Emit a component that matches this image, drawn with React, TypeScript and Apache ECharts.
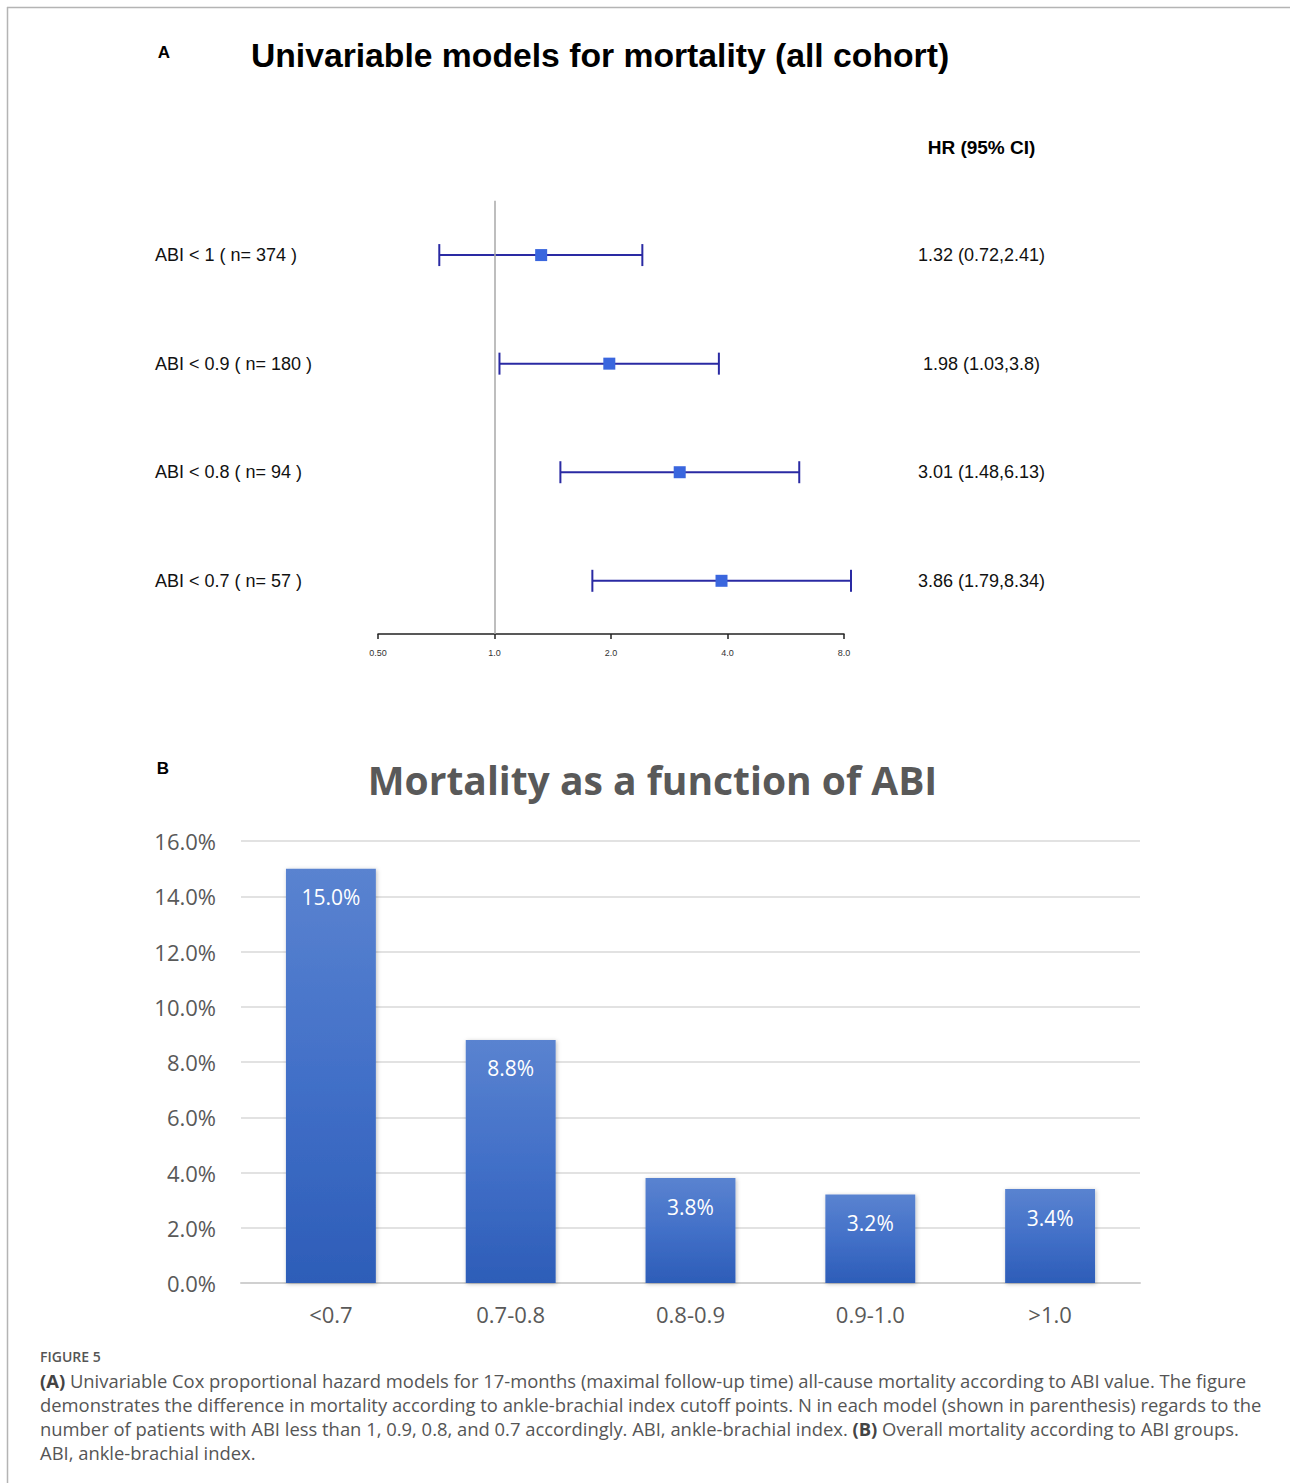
import React, { useEffect, useRef } from "react";
import * as echarts from "echarts";

// ---------- Data: panel A (forest plot) ----------
const forestLabels = [
  "ABI < 1 ( n= 374 )",
  "ABI < 0.9 ( n= 180 )",
  "ABI < 0.8 ( n= 94 )",
  "ABI < 0.7 ( n= 57 )",
];
const hrValues = [1.32, 1.98, 3.01, 3.86];
const ciLower = [0.72, 1.03, 1.48, 1.79];
const ciUpper = [2.41, 3.8, 6.13, 8.34];
const forestAxisMin = 0.5;
const forestAxisMax = 8;

// ---------- Data: panel B (bar chart) ----------
const abiGroups = ["<0.7", "0.7-0.8", "0.8-0.9", "0.9-1.0", ">1.0"];
const mortalityPct = [15.0, 8.8, 3.8, 3.2, 3.4];

// ---------- Texts ----------
const titleA = "Univariable models for mortality (all cohort)";
const titleB = "Mortality as a function of ABI";
const hrHeader = "HR (95% CI)";
const captionHead = "FIGURE 5";
const captionLines = [
  "{b|(A)} Univariable Cox proportional hazard models for 17-months (maximal follow-up time) all-cause mortality according to ABI value. The figure",
  "demonstrates the difference in mortality according to ankle-brachial index cutoff points. N in each model (shown in parenthesis) regards to the",
  "number of patients with ABI less than 1, 0.9, 0.8, and 0.7 accordingly. ABI, ankle-brachial index. {b|(B)} Overall mortality according to ABI groups.",
  "ABI, ankle-brachial index.",
];

const ARIAL = "'Liberation Sans', Arial, sans-serif";
const SANS = "'Open Sans', 'Noto Sans', sans-serif";
const CAP_SIZE = 18.4;

export default function App() {
  const ref = useRef<HTMLDivElement>(null);

  useEffect(() => {
    document.body.style.margin = "0";
    const chart = echarts.init(ref.current!, null, { renderer: "svg" });

    const errorData = hrValues.map((_, i) => [ciLower[i], ciUpper[i], i + 1]);
    const pointData = hrValues.map((v, i) => [v, i + 1]);

    const captionCenters = [1380, 1404, 1428, 1452];

    const option: any = {
      animation: false,
      backgroundColor: "#ffffff",
      grid: [
        { left: 378, width: 466, top: 146.5, height: 487.5 },
        { left: 241, width: 899, top: 841, height: 442 },
      ],
      xAxis: [
        {
          gridIndex: 0,
          type: "log",
          logBase: 2,
          min: forestAxisMin,
          max: forestAxisMax,
          position: "bottom",
          axisLine: { show: true, onZero: false, lineStyle: { color: "#222", width: 1.5 } },
          axisTick: { show: true, length: 5, lineStyle: { color: "#222", width: 1.5 } },
          axisLabel: {
            fontSize: 9,
            fontFamily: ARIAL,
            color: "#333",
            margin: 14,
            formatter: (v: number) => (v < 1 ? v.toFixed(2) : v.toFixed(1)),
          },
          splitLine: { show: false },
          minorTick: { show: false },
        },
        {
          gridIndex: 1,
          type: "category",
          data: abiGroups,
          axisLine: { show: true, lineStyle: { color: "#d0d0d0", width: 2 } },
          axisTick: { show: false },
          axisLabel: { fontSize: 22, fontFamily: SANS, color: "#595959", margin: 20 },
        },
      ],
      yAxis: [
        { gridIndex: 0, type: "value", min: 0, max: 4.49, inverse: true, show: false },
        {
          gridIndex: 1,
          type: "value",
          min: 0,
          max: 16,
          interval: 2,
          axisLine: { show: false },
          axisTick: { show: false },
          axisLabel: {
            fontSize: 22,
            fontFamily: SANS,
            color: "#595959",
            margin: 25,
            formatter: (v: number) => v.toFixed(1) + "%",
          },
          splitLine: { show: true, lineStyle: { color: "#d9d9d9", width: 1.5 } },
        },
      ],
      series: [
        {
          type: "custom",
          xAxisIndex: 0,
          yAxisIndex: 0,
          data: errorData,
          encode: { x: [0, 1], y: 2 },
          clip: false,
          z: 2,
          renderItem: (params: any, api: any) => {
            const idx = params.dataIndex;
            const row = api.value(2);
            const p1 = api.coord([api.value(0), row]);
            const p2 = api.coord([api.value(1), row]);
            const y = p1[1];
            const stroke = "#2a2aa3";
            const cap = 11;
            return {
              type: "group",
              children: [
                { type: "line", shape: { x1: p1[0], y1: y, x2: p2[0], y2: y }, style: { stroke, lineWidth: 2 } },
                { type: "line", shape: { x1: p1[0], y1: y - cap, x2: p1[0], y2: y + cap }, style: { stroke, lineWidth: 2 } },
                { type: "line", shape: { x1: p2[0], y1: y - cap, x2: p2[0], y2: y + cap }, style: { stroke, lineWidth: 2 } },
                {
                  type: "text",
                  x: 155,
                  y,
                  style: {
                    text: forestLabels[idx],
                    fontSize: 18,
                    fontFamily: ARIAL,
                    fill: "#111",
                    align: "left",
                    verticalAlign: "middle",
                  },
                },
                {
                  type: "text",
                  x: 981.5,
                  y,
                  style: {
                    text: `${hrValues[idx]} (${ciLower[idx]},${ciUpper[idx]})`,
                    fontSize: 18,
                    fontFamily: ARIAL,
                    fill: "#111",
                    align: "center",
                    verticalAlign: "middle",
                  },
                },
              ],
            };
          },
        },
        {
          type: "scatter",
          xAxisIndex: 0,
          yAxisIndex: 0,
          data: pointData,
          symbol: "rect",
          symbolSize: 12,
          z: 3,
          itemStyle: { color: "#3a66de", opacity: 1 },
          markLine: {
            silent: true,
            symbol: ["none", "none"],
            label: { show: false },
            lineStyle: { color: "#a8a8a8", width: 1.5, type: "solid" },
            data: [[{ coord: [1, 0.5] }, { coord: [1, 4.49] }]],
          },
        },
        {
          type: "bar",
          xAxisIndex: 1,
          yAxisIndex: 1,
          data: mortalityPct,
          barWidth: "50%",
          itemStyle: {
            color: new echarts.graphic.LinearGradient(0, 0, 0, 1, [
              { offset: 0, color: "#5a83d0" },
              { offset: 0.5, color: "#4270c8" },
              { offset: 1, color: "#2d5db8" },
            ]),
            shadowColor: "rgba(0,0,0,0.25)",
            shadowBlur: 4,
            shadowOffsetX: 1,
            shadowOffsetY: 1,
          },
          label: {
            show: true,
            position: "insideTop",
            distance: 18,
            color: "#ffffff",
            fontSize: 21,
            fontFamily: SANS,
            formatter: (p: any) => Number(p.value).toFixed(1) + "%",
          },
        },
      ],
      graphic: [
        { type: "line", shape: { x1: 7, y1: 7.5, x2: 1290, y2: 7.5 }, style: { stroke: "#b4b4b4", lineWidth: 1.5 } },
        { type: "line", shape: { x1: 7.5, y1: 7, x2: 7.5, y2: 1483 }, style: { stroke: "#b4b4b4", lineWidth: 1.5 } },
        {
          type: "text",
          x: 164,
          y: 52,
          style: { text: "A", fontSize: 17, fontWeight: "bold", fontFamily: ARIAL, fill: "#000", align: "center", verticalAlign: "middle" },
        },
        {
          type: "text",
          x: 600,
          y: 55,
          style: { text: titleA, fontSize: 33.7, fontWeight: "bold", fontFamily: ARIAL, fill: "#000", align: "center", verticalAlign: "middle" },
        },
        {
          type: "text",
          x: 981.5,
          y: 147,
          style: { text: hrHeader, fontSize: 19, fontWeight: "bold", fontFamily: ARIAL, fill: "#000", align: "center", verticalAlign: "middle" },
        },
        {
          type: "text",
          x: 163,
          y: 768,
          style: { text: "B", fontSize: 17, fontWeight: "bold", fontFamily: ARIAL, fill: "#000", align: "center", verticalAlign: "middle" },
        },
        {
          type: "text",
          x: 652.5,
          y: 779,
          style: { text: titleB, fontSize: 39, fontWeight: "bold", fontFamily: SANS, fill: "#595959", align: "center", verticalAlign: "middle" },
        },
        {
          type: "text",
          x: 40,
          y: 1356,
          style: { text: captionHead, fontSize: 14, fontWeight: 600, fontFamily: SANS, fill: "#555", align: "left", verticalAlign: "middle" },
        },
        ...captionLines.map((line, i) => ({
          type: "text",
          x: 40,
          y: captionCenters[i],
          style: {
            text: line,
            fontSize: CAP_SIZE,
            fontFamily: SANS,
            fill: "#555",
            align: "left",
            verticalAlign: "middle",
            rich: {
              b: { fontSize: CAP_SIZE, fontFamily: SANS, fontWeight: "bold", fill: "#444" },
            },
          },
        })),
      ],
    };

    chart.setOption(option);
    return () => chart.dispose();
  }, []);

  return <div ref={ref} style={{ width: 1290, height: 1483, background: "#fff" }} />;
}
